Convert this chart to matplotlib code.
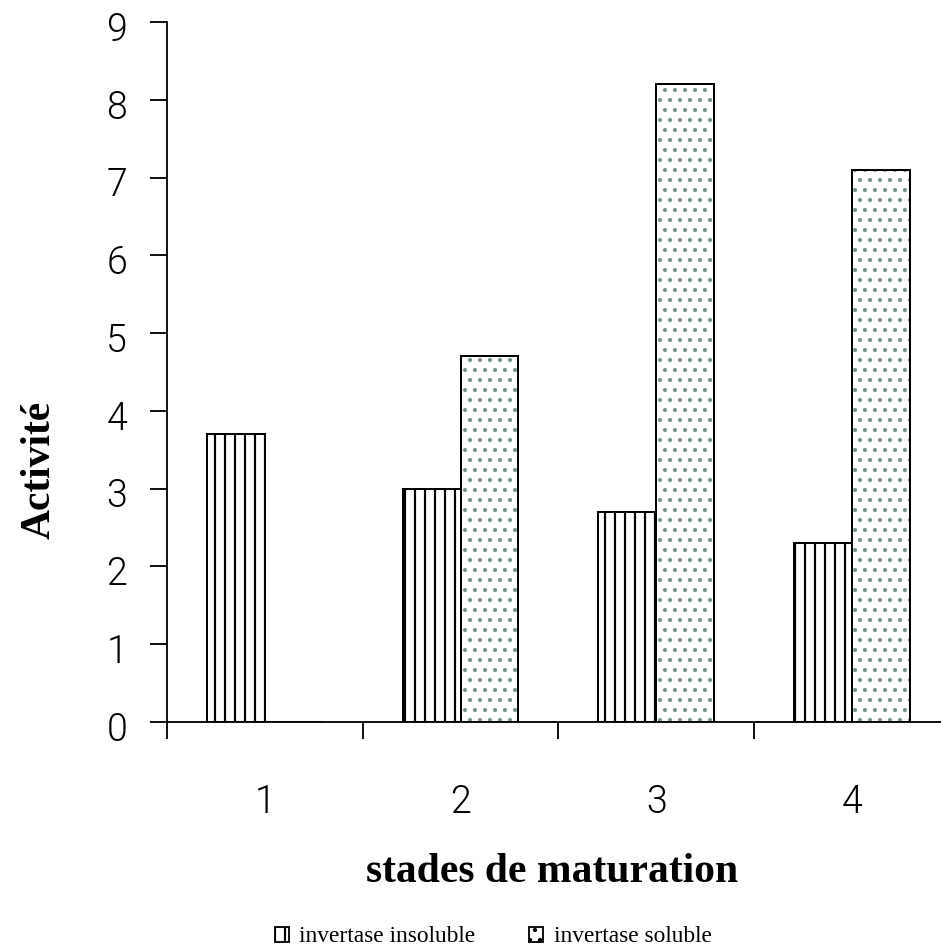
import matplotlib
matplotlib.use("Agg")
import matplotlib.pyplot as plt
from matplotlib.patches import Patch
from matplotlib.transforms import ScaledTranslation
import numpy as np

# Invertase activity by maturation stage
stades = ["1", "2", "3", "4"]
insoluble = [3.7, 3.0, 2.7, 2.3]
soluble = [0.0, 4.7, 8.2, 7.1]
y_ticks = [0, 1, 2, 3, 4, 5, 6, 7, 8, 9]

DPI = 60
plt.rcParams["hatch.linewidth"] = 2.6

fig = plt.figure(figsize=(941 / DPI, 949 / DPI), dpi=DPI, facecolor="white")
ax = fig.add_axes([0.1775, 0.2392, 1 - 0.1775, 0.9768 - 0.2392])

x = np.arange(1, len(stades) + 1)
w = 0.296
dot_color = "#7a9696"

# insoluble: vertical line hatch
ax.bar(x - w / 2, insoluble, w, facecolor="white", edgecolor="black",
       hatch="|", linewidth=2.4, zorder=2)
# soluble: dotted fill, then black outline on top
ax.bar(x + w / 2, soluble, w, facecolor="white", edgecolor=dot_color,
       hatch=".", linewidth=0, zorder=2)
ax.bar(x + w / 2, soluble, w, fill=False, edgecolor="black",
       linewidth=2.4, zorder=3)

ax.set_xlim(0.5, 0.5 + 774 / 195.7)
ax.set_ylim(0, 9)

for s in ("top", "right"):
    ax.spines[s].set_visible(False)
for s in ("left", "bottom"):
    ax.spines[s].set_linewidth(2.2)

tick_font = dict(family=["Roboto", "DejaVu Sans"], weight=300, size=45)

ax.set_yticks(y_ticks)
ax.set_yticklabels([str(v) for v in y_ticks], fontdict=tick_font)
ax.tick_params(axis="y", direction="out", length=20.4, width=2.2, pad=27.6)
# tick numbers sit slightly below their tick marks
shift = ScaledTranslation(0, -4 / DPI, fig.dpi_scale_trans)
for lbl in ax.get_yticklabels():
    lbl.set_transform(lbl.get_transform() + shift)

ax.set_xticks(x)
ax.set_xticklabels(stades, fontdict=tick_font)
ax.set_xticks(np.arange(0.5, len(stades) + 0.5), minor=True)
ax.tick_params(axis="x", which="major", length=0, pad=74)
ax.tick_params(axis="x", which="minor", direction="out", length=20.4, width=2.2)

label_font = dict(family="Liberation Serif", weight="bold", size=50)
ax.set_ylabel("Activité", fontdict=label_font)
ax.yaxis.set_label_coords(-0.14, 0.5 + (470 - (22 + 722) / 2) / -700)
fig.text(552 / 941, 1 - 872 / 949, "stades de maturation", ha="center",
         va="center", **label_font)

handles = [
    Patch(facecolor="white", edgecolor="black", hatch="|", linewidth=2.2),
    Patch(facecolor="white", edgecolor=dot_color, hatch=".", linewidth=0),
]
leg = fig.legend(handles, ["invertase insoluble", "invertase soluble"],
                 loc="center", bbox_to_anchor=(0.524, 1 - 937 / 949), ncol=2,
                 frameon=False, prop=dict(family="Liberation Serif", size=28),
                 handlelength=0.6, handleheight=0.6, handletextpad=0.45,
                 columnspacing=2.3, borderpad=0)
# black frame around the dotted legend key
leg.legend_handles[1].set_edgecolor("black")
leg.legend_handles[1].set_linewidth(2.2)

fig.savefig("out.png", dpi=DPI, facecolor="white")
